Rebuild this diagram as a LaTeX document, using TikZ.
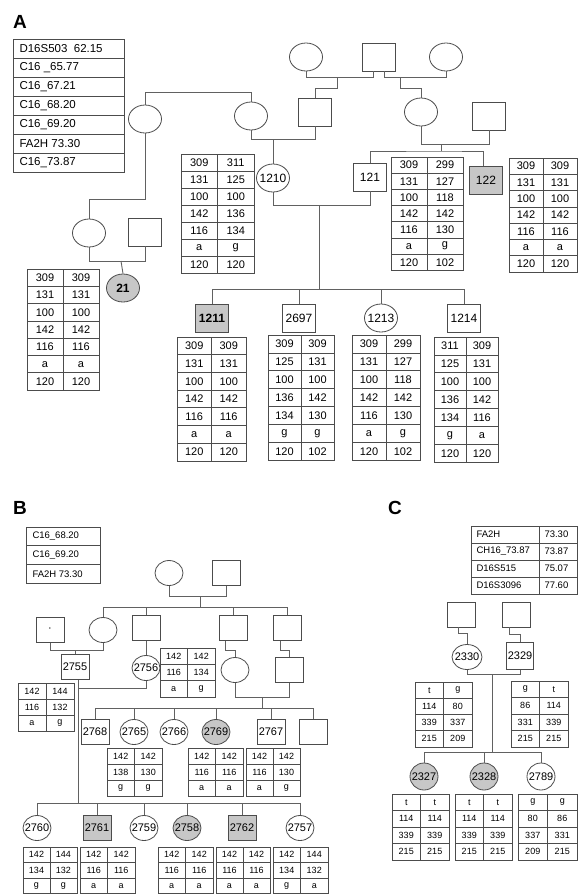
\documentclass[tikz,border=0pt]{standalone}
\usepackage{fontspec}
\setmainfont{Liberation Sans}
\usetikzlibrary{shapes.geometric}
\definecolor{lc}{gray}{0.38}
\definecolor{bc}{gray}{0.3}
\definecolor{shade}{gray}{0.78}
\newcommand{\pname}[1]{\makebox[0pt]{#1}}
\newcommand{\fs}[1]{\fontsize{#1}{#1}\selectfont}
\newcommand{\haptab}[7]{%
  \foreach \a/\b [count=\i] in {#7} {
    \draw[cell] (#2,{#3+(\i-1)*#5}) rectangle ++(#4,#5);
    \draw[cell] ({#2+#4},{#3+(\i-1)*#5}) rectangle ++(#4,#5);
    \node[font=\fs{#6}] (#1-\i-1) at ({#2+0.5*#4},{#3+(\i-0.5)*#5}) {\a};
    \node[font=\fs{#6}] (#1-\i-2) at ({#2+1.5*#4},{#3+(\i-0.5)*#5}) {\b};
  }}
\newcommand{\markertab}[7]{%
  \foreach \t [count=\i] in {#7} {
    \draw[cell] (#2,{#3+(\i-1)*#5}) rectangle ++(#4,#5);
    \node[font=\fs{#6}, anchor=west] (#1-\i) at ({#2+3},{#3+(\i-0.5)*#5}) {\t};
  }}
\begin{document}
\begin{tikzpicture}[x=1pt, y=-1pt,
  female/.style={ellipse, draw=bc, line width=0.8pt, inner sep=0pt},
  male/.style={rectangle, draw=bc, line width=0.8pt, inner sep=0pt},
  affected/.style={fill=shade},
  sizeA/.style={minimum width=33pt, minimum height=28pt, font=\fs{12}},
  sizeB/.style={minimum width=28pt, minimum height=25pt, font=\fs{11}},
  link/.style={draw=lc, line width=0.9pt},
  cell/.style={draw=bc, line width=0.7pt},
  panel/.style={font=\bfseries\fs{19}}]
\useasboundingbox (0,0) rectangle (579,895);

% A
\node[panel] (lA) at (20,22) {A};
\markertab{mkA}{13}{39}{111}{19}{11.5}{D16S503\ \ 62.15, C16 \_65.77, C16\_67.21, C16\_68.20, C16\_69.20, FA2H 73.30, C16\_73.87}

\node[female, sizeA] (fA1) at (306,57) {};
\node[male, sizeA] (mA1) at (379,57) {};
\node[female, sizeA] (fA2) at (446,57) {};
\node[male, sizeA] (mA2) at (315,112) {};
\node[female, sizeA] (fA3) at (421,112) {};
\node[male, sizeA] (mA3) at (489,116) {};
\node[female, sizeA] (fA4) at (145,119) {};
\node[female, sizeA] (fA5) at (251,116) {};
\node[female, sizeA] (n1210) at (273,178) {\pname{1210}};
\node[male, sizeA] (n121) at (370,177) {\pname{121}};
\node[male, sizeA, affected] (n122) at (486,180) {\pname{122}};
\node[female, sizeA] (fA6) at (89,233) {};
\node[male, sizeA] (mA6) at (145,232) {};
\node[female, sizeA, affected] (n21) at (123,288) {\pname{\bfseries 21}};
\node[male, sizeA, affected] (n1211) at (212,318) {\pname{\bfseries 1211}};
\node[male, sizeA] (n2697) at (299,318) {\pname{2697}};
\node[female, sizeA] (n1213) at (381,318) {\pname{1213}};
\node[male, sizeA] (n1214) at (464,318) {\pname{1214}};

\draw[link] (fA1.south) -- ++(0,6) -| ([xshift=-6pt]mA1.south);
\draw[link] ([xshift=5pt]mA1.south) -- ++(0,6) -| (fA2.south);
\coordinate (uA1) at (337,77);
\coordinate (uA2) at (400,77);
\draw[link] (uA1) -- ++(0,11) -| (mA2.north);
\draw[link] (uA2) -- ++(0,11) -| (fA3.north);
\draw[link] (fA3.south) -- ++(0,18) -| (mA3.south);
\coordinate (uA3) at (441,144);
\coordinate (sA3) at (441,151);
\draw[link] (uA3) -- (sA3);
\draw[link] (n121.north) |- (sA3) -| ([xshift=-3pt]n122.north);
\draw[link] (fA4.north) -- ++(0,-12) -| (fA5.north);
\draw[link] (fA5.south) -- ++(0,9) -| (mA2.south);
\coordinate (uA4) at (273,139);
\draw[link] (uA4) -- (n1210.north);
\draw[link] (n1210.south) -- ++(0,13) -| (n121.south);
\coordinate (uA5) at (319,206);
\coordinate (sA5) at (319,289);
\draw[link] (uA5) -- (sA5);
\foreach \c in {n1211,n2697,n1213,n1214} \draw[link] (\c.north) |- (sA5);
\draw[link] (fA4.south) -- ++(0,66) -| (fA6.north);
\draw[link] (fA6.south) -- ++(0,14) -| (mA6.south);
\coordinate (uA6) at (121,261);
\draw[link] (uA6) -- (n21.north);

\haptab{t1210}{181}{154}{36.5}{17}{11}{309/311, 131/125, 100/100, 142/136, 116/134, a/g, 120/120}
\haptab{t121}{391}{157}{36}{16.2}{11}{309/299, 131/127, 100/118, 142/142, 116/130, a/g, 120/102}
\haptab{t122}{509}{158}{34}{16.3}{11}{309/309, 131/131, 100/100, 142/142, 116/116, a/a, 120/120}
\haptab{t21}{27}{269}{36}{17.3}{11}{309/309, 131/131, 100/100, 142/142, 116/116, a/a, 120/120}
\haptab{t1211}{177}{337}{34.5}{17.7}{11}{309/309, 131/131, 100/100, 142/142, 116/116, a/a, 120/120}
\haptab{t2697}{268}{335}{33}{17.9}{11}{309/309, 125/131, 100/100, 136/142, 134/130, g/g, 120/102}
\haptab{t1213}{352}{335}{34}{17.9}{11}{309/299, 131/127, 100/118, 142/142, 116/130, a/g, 120/102}
\haptab{t1214}{434}{337}{32}{17.9}{11}{311/309, 125/131, 100/100, 136/142, 134/116, g/a, 120/120}

% B
\node[panel] (lB) at (20,508) {B};
\markertab{mkB}{26}{527}{74}{18.7}{9.5}{C16\_68.20, C16\_69.20, FA2H 73.30}

\node[female, sizeB] (fB1) at (169,573) {};
\node[male, sizeB] (mB1) at (226,573) {};
\node[male, sizeB] (mB0) at (50,630) {\pname{\raisebox{-2pt}{·}}};
\node[female, sizeB] (fB2) at (103,630) {};
\node[male, sizeB] (mB2) at (146,628) {};
\node[male, sizeB] (mB3) at (233,628) {};
\node[male, sizeB] (mB4) at (287,628) {};
\node[male, sizeB] (n2755) at (75,667) {\pname{2755}};
\node[female, sizeB] (n2756) at (146,668) {\pname{2756}};
\node[female, sizeB] (fB5) at (235,670) {};
\node[male, sizeB] (mB5) at (289,670) {};
\node[male, sizeB] (n2768) at (95,732) {\pname{2768}};
\node[female, sizeB] (n2765) at (134,732) {\pname{2765}};
\node[female, sizeB] (n2766) at (174,732) {\pname{2766}};
\node[female, sizeB, affected] (n2769) at (216,732) {\pname{2769}};
\node[male, sizeB] (n2767) at (271,732) {\pname{2767}};
\node[male, sizeB] (mB6) at (313,732) {};
\node[female, sizeB] (n2760) at (37,828) {\pname{2760}};
\node[male, sizeB, affected] (n2761) at (97,828) {\pname{2761}};
\node[female, sizeB] (n2759) at (144,828) {\pname{2759}};
\node[female, sizeB, affected] (n2758) at (187,828) {\pname{2758}};
\node[male, sizeB, affected] (n2762) at (242,828) {\pname{2762}};
\node[female, sizeB] (n2757) at (300,828) {\pname{2757}};

\draw[link] (fB1.south) -- ++(0,11) -| (mB1.south);
\coordinate (uB1) at (200,596.5);
\coordinate (sB1) at (200,607);
\draw[link] (uB1) -- (sB1);
\foreach \c in {fB2,mB2,mB3,mB4} \draw[link] (\c.north) |- (sB1);
\draw[link] (mB0.south) -- ++(0,8) -| (fB2.south);
\coordinate (uB2) at (75,650.5);
\draw[link] (uB2) -- (n2755.north);
\draw[link] (mB2.south) -- (n2756.north);
\draw[link] ([xshift=-8pt]mB3.south) -- ++(0,10) -| (fB5.north);
\draw[link] ([xshift=-7pt]mB4.south) -- ++(0,10) -| (mB5.north);
\draw[link] (fB5.south) -- ++(0,15) -| (mB5.south);
\coordinate (uB3) at (262,697.5);
\coordinate (sB3) at (262,708);
\draw[link] (uB3) -- (sB3);
\foreach \c in {n2768,n2765,n2766,n2769,n2767,mB6} \draw[link] (\c.north) |- (sB3);
\draw[link] ([xshift=3pt]n2755.south) -- ++(0,9) -| (n2756.south);
\coordinate (sB4) at (78,803);
\draw[link] ([xshift=3pt]n2755.south) -- (sB4);
\foreach \c in {n2760,n2761,n2759,n2758,n2762,n2757} \draw[link] (\c.north) |- (sB4);

\haptab{t2755}{18}{683}{28}{16}{9}{142/144, 116/132, a/g}
\haptab{t2756}{160}{648}{27.5}{16.3}{9}{142/142, 116/134, a/g}
\haptab{t2765}{107}{748}{27.5}{16}{9}{142/142, 138/130, g/g}
\haptab{t2769}{188}{748}{27.5}{16}{9}{142/142, 116/116, a/a}
\haptab{t2767}{246}{748}{27}{16}{9}{142/142, 116/130, a/g}
\haptab{t2760}{23}{847}{27}{15.5}{9}{142/144, 134/132, g/g}
\haptab{t2761}{80}{847}{27.5}{15.5}{9}{142/142, 116/116, a/a}
\haptab{t2758}{158}{847}{27.5}{15.5}{9}{142/142, 116/116, a/a}
\haptab{t2762}{216}{847}{27}{15.5}{9}{142/142, 116/116, a/a}
\haptab{t2757}{273}{847}{27.5}{15.5}{9}{142/144, 134/132, g/a}

% C
\node[panel] (lC) at (395,508) {C};
\foreach \m/\v [count=\i] in {FA2H/73.30, CH16\_73.87/73.87, D16S515/75.07, D16S3096/77.60} {
  \draw[cell] (471,{526+(\i-1)*17}) rectangle ++(68,17);
  \draw[cell] (539,{526+(\i-1)*17}) rectangle ++(38,17);
  \node[font=\fs{9.5}, anchor=west] (mkC-\i-1) at (473,{526+(\i-0.5)*17}) {\m};
  \node[font=\fs{9.5}, anchor=west] (mkC-\i-2) at (541,{526+(\i-0.5)*17}) {\v};
}

\node[male, sizeB] (mC1) at (461,614.5) {};
\node[male, sizeB] (mC2) at (516,614.5) {};
\node[female, sizeB, minimum width=30pt] (n2330) at (467,657) {\pname{2330}};
\node[male, sizeB, minimum width=27pt, minimum height=27pt] (n2329) at (520,656) {\pname{2329}};
\node[female, sizeB, minimum height=27pt, affected] (n2327) at (424,776.5) {\pname{2327}};
\node[female, sizeB, minimum height=27pt, affected] (n2328) at (484,776.5) {\pname{2328}};
\node[female, sizeB, minimum height=27pt] (n2789) at (541,776.5) {\pname{2789}};

\draw[link] ([xshift=-3pt]mC1.south) -- ++(0,6) -| (n2330.north);
\draw[link] ([xshift=-7pt]mC2.south) -- ++(0,7) -| (n2329.north);
\draw[link] (n2330.south) -- ++(0,5) -| (n2329.south);
\coordinate (uC) at (492,674.5);
\coordinate (sC) at (492,752);
\draw[link] (uC) -- (sC);
\foreach \c in {n2327,n2328,n2789} \draw[link] (\c.north) |- (sC);

\haptab{t2330}{415}{682}{28.5}{16.25}{9}{t/g, 114/80, 339/337, 215/209}
\haptab{t2329}{511}{681}{28.5}{16.5}{9}{g/t, 86/114, 331/339, 215/215}
\haptab{t2327}{392}{794}{28.5}{16.5}{9}{t/t, 114/114, 339/339, 215/215}
\haptab{t2328}{455}{794}{28.5}{16.5}{9}{t/t, 114/114, 339/339, 215/215}
\haptab{t2789}{518}{794}{29.5}{16.5}{9}{g/g, 80/86, 337/331, 209/215}
\end{tikzpicture}
\end{document}
